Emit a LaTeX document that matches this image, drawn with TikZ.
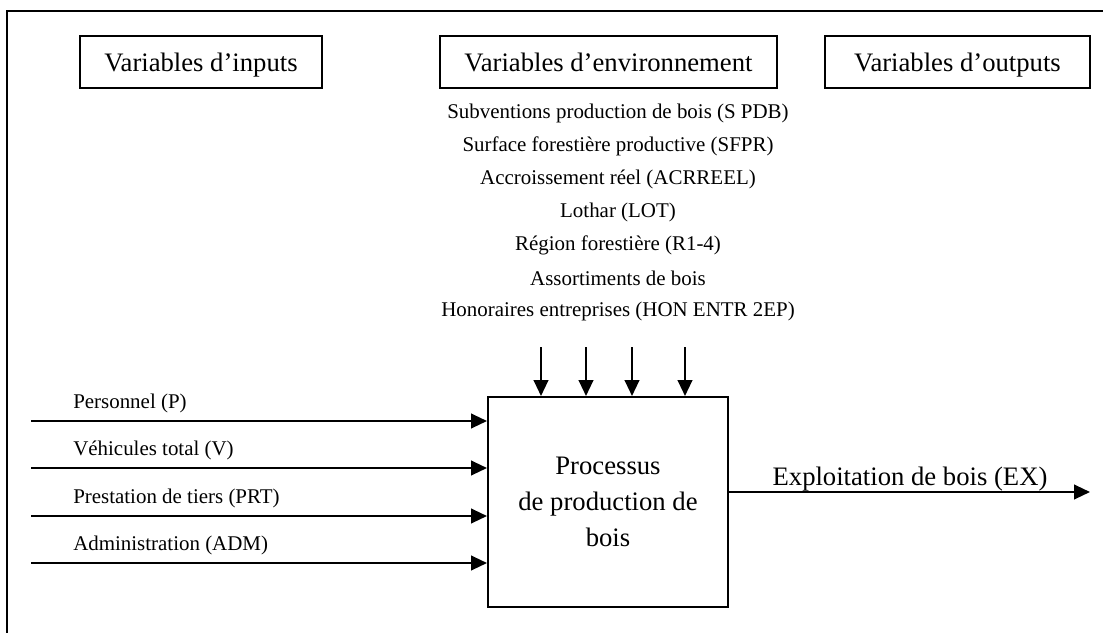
\documentclass[tikz,border=0pt]{standalone}
\usepackage{fontspec}
\setmainfont{Liberation Serif}
\usetikzlibrary{arrows.meta}
\usetikzlibrary{calc,positioning}

\tikzset{
  varbox/.style={draw, line width=1.5pt, minimum height=39pt, inner sep=0pt, text depth=0pt, font=\fontsize{20}{24}\selectfont},
  small/.style={font=\fontsize{15.7}{18}\selectfont, inner sep=0pt},
  big/.style={font=\fontsize{20}{24}\selectfont, inner sep=0pt},
  flow/.style={line width=1.6pt, arrows={-Triangle[length=12pt, width=11pt]}},
}

\begin{document}
\begin{tikzpicture}[x=0.75pt, y=-0.75pt]
\useasboundingbox (0,0) rectangle (1103,632);
\draw [line width=1.5pt] (1110,11) -- (7,11) -- (7,640);
\node [varbox, minimum width=181.5pt] (inputs) at (201,62) {Variables d'inputs};
\node [varbox, minimum width=252.75pt] (environ) at (608.5,62) {Variables d'environnement};
\node [varbox, minimum width=198.75pt] (outputs) at (957.5,62) {Variables d'outputs};
\foreach \txt [count=\i] in {Subventions production de bois (S PDB), Surface forestière productive (SFPR), Accroissement réel (ACRREEL), Lothar (LOT), Région forestière (R1-4), Assortiments de bois, Honoraires entreprises (HON ENTR 2EP)}
  \node [small] (env\i) at (618,{80+33*\i}) {\txt};
\node [draw, line width=1.5pt, minimum width=180pt, minimum height=157.5pt, align=center, font=\fontsize{20}{27}\selectfont] (proc) at (608,502) {Processus\\ de production de\\ bois};
\foreach \lbl/\y [count=\i] in {Personnel (P)/421, Véhicules total (V)/468, Prestation de tiers (PRT)/516, Administration (ADM)/563} {
  \coordinate (in\i) at (31,\y);
  \draw [flow] (in\i) -- (in\i -| proc.west);
  \node [small, anchor=base west] (lbl\i) at (73,\y-13) {\lbl};
}
\foreach \x [count=\i] in {541,586,632,685} {
  \coordinate (top\i) at (\x,347);
  \draw [flow] (top\i) -- (top\i |- proc.north);
}
\coordinate (outend) at (1090,492);
\draw [flow] (outend -| proc.east) -- (outend);
\node [big, anchor=base] (exlbl) at (910,485) {Exploitation de bois (EX)};
\end{tikzpicture}
\end{document}
